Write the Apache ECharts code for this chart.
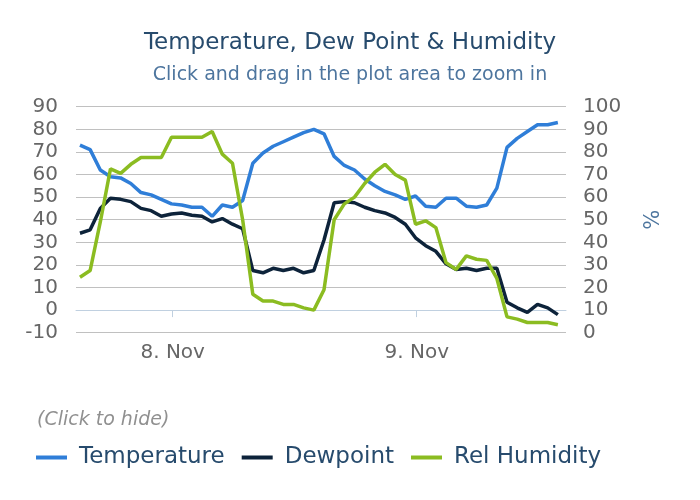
<!DOCTYPE html>
<html>
<head>
<meta charset="utf-8">
<script src="https://cdn.jsdelivr.net/npm/echarts@6/dist/echarts.min.js"></script>
<style>
html,body{margin:0;padding:0;background:#fff;}
#chart{width:700px;height:500px;}
</style>
</head>
<body>
<div id="chart"></div>
<script>
// Observation times: hours since 7 Nov 00:00 (hourly observations at :53)
const obsHours = [14.88,15.88,16.88,17.88,18.88,19.88,20.88,21.88,22.88,23.88,
  24.88,25.88,26.88,27.88,28.88,29.88,30.88,31.88,32.88,33.88,
  34.88,35.88,36.88,37.88,38.88,39.88,40.88,41.88,42.88,43.88,
  44.88,45.88,46.88,47.88,48.88,49.88,50.88,51.88,52.88,53.88,
  54.88,55.88,56.88,57.88,58.88,59.88,60.88,61.88];

const temperature = [73,71,62,59,58.5,56,52,51,49,47,
  46.5,45.5,45.5,41.5,46.5,45.5,48.5,65,69.5,72.5,
  74.5,76.5,78.5,80,78,68,64,62,58,55,
  52.5,51,49,50.5,46,45.5,49.5,49.5,46,45.5,
  46.5,54,72,76,79,82,82,83];

const dewpoint = [34,35.5,45,49.5,49,48,45,44,41.5,42.5,
  43,42,41.5,39,40.5,38,36,17.5,16.5,18.5,
  17.5,18.5,16.5,17.5,31,47.5,48,47.5,45.5,44,
  43,41,38,32,28.5,26,20.5,18,18.5,17.5,
  18.5,18.5,3.5,1,-1,2.5,1,-2];

const relHumidity = [24.5,27.5,49,72.5,70.5,74.5,77.5,77.5,77.5,86.5,
  86.5,86.5,86.5,89,79,75,50,17,14,14,
  12.5,12.5,11,10,19,50,57,60,66,71,
  74.5,70,67.5,48,49.5,46.5,31,28,34,32.5,
  32,24,7,6,4.5,4.5,4.5,3.5];

const dayTicks = [24, 48];
const dayLabels = {24: '8. Nov', 48: '9. Nov'};
const seriesNames = ['Temperature', 'Dewpoint', 'Rel Humidity'];

const pair = (ys) => obsHours.map((h, i) => [h, ys[i]]);

const FONT = 'DejaVu Sans';
const chart = echarts.init(document.getElementById('chart'));
chart.setOption({
  animation: false,
  backgroundColor: '#ffffff',
  color: ['#2f7ed8', '#0d233a', '#8bbc21'],
  title: [
    {text: 'Temperature, Dew Point & Humidity', left: 'center', top: 32, padding: 0,
     textStyle: {fontFamily: FONT, fontSize: 23, fontWeight: 'normal', color: '#274b6d'}},
    {text: 'Click and drag in the plot area to zoom in', left: 'center', top: 66, padding: 0,
     textStyle: {fontFamily: FONT, fontSize: 19, fontWeight: 'normal', color: '#4d759e'}},
    {text: '(Click to hide)', left: 37, top: 411, padding: 0,
     textStyle: {fontFamily: FONT, fontSize: 19, fontWeight: 'normal', fontStyle: 'italic', color: '#909090'}}
  ],
  legend: {
    left: 36, top: 446, padding: 0,
    icon: 'rect', itemWidth: 31, itemHeight: 4, itemGap: 17,
    textStyle: {fontFamily: FONT, fontSize: 23, color: '#274b6d', padding: [0, 0, 0, 7]},
    data: seriesNames
  },
  grid: {left: 76, right: 134, top: 106.7, bottom: 167.3, containLabel: false},
  xAxis: {
    type: 'value', min: 14.49, max: 62.68,
    axisLine: {show: true, lineStyle: {color: '#C0D0E0', width: 1}},
    axisTick: {show: true, customValues: dayTicks, length: 7, lineStyle: {color: '#C0D0E0'}},
    axisLabel: {customValues: dayTicks, margin: 10, fontFamily: FONT, fontSize: 20, color: '#666666',
      formatter: (v) => dayLabels[Math.round(v)] || ''},
    splitLine: {show: false}
  },
  yAxis: [
    {type: 'value', min: -10, max: 90, interval: 10, position: 'left',
     axisLine: {show: false}, axisTick: {show: false},
     axisLabel: {margin: 18, fontFamily: FONT, fontSize: 20, color: '#666666'},
     splitLine: {show: true, lineStyle: {color: '#C0C0C0', width: 1}}},
    {type: 'value', min: 0, max: 100, interval: 10, position: 'right',
     name: '%', nameLocation: 'middle', nameRotate: -90, nameGap: 72,
     nameTextStyle: {fontFamily: FONT, fontSize: 21, color: '#4d759e'},
     axisLine: {show: false}, axisTick: {show: false},
     axisLabel: {margin: 17, fontFamily: FONT, fontSize: 20, color: '#666666'},
     splitLine: {show: false}}
  ],
  series: [
    {name: seriesNames[0], type: 'line', yAxisIndex: 0, data: pair(temperature),
     showSymbol: false, symbol: 'none', lineStyle: {width: 3.5}},
    {name: seriesNames[1], type: 'line', yAxisIndex: 0, data: pair(dewpoint),
     showSymbol: false, symbol: 'none', lineStyle: {width: 3.5}},
    {name: seriesNames[2], type: 'line', yAxisIndex: 1, data: pair(relHumidity),
     showSymbol: false, symbol: 'none', lineStyle: {width: 3.5}}
  ]
});
</script>
</body>
</html>
